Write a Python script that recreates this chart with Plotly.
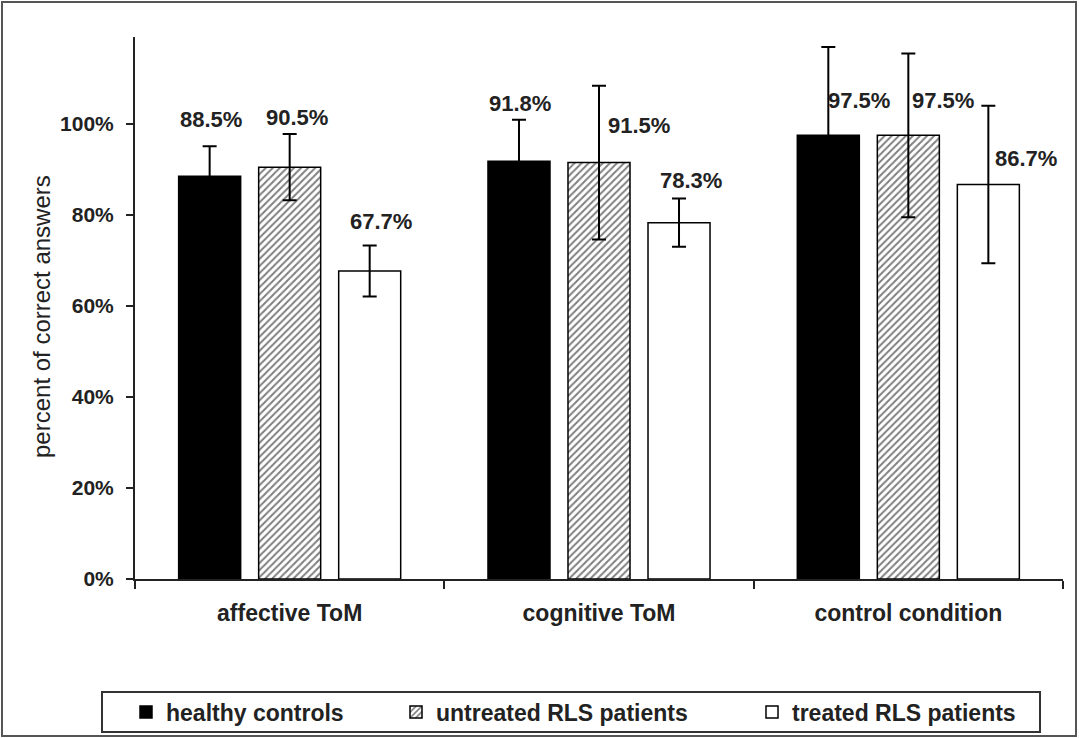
import plotly.graph_objects as go

categories = ["affective ToM", "cognitive ToM", "control condition"]
groups = ["healthy controls", "untreated RLS patients", "treated RLS patients"]
healthy = [88.5, 91.8, 97.5]
untreated = [90.5, 91.5, 97.5]
treated = [67.7, 78.3, 86.7]
healthy_sd = [6.6, 9.1, 19.4]
untreated_sd = [7.3, 16.9, 18.0]
treated_sd = [5.6, 5.3, 17.3]
y_ticks = [0, 20, 40, 60, 80, 100]

# label placement (style only)
label_y = [[100.9, 104.4, 105.1], [101.5, 99.6, 105.1], [78.5, 87.5, 92.5]]
label_dx = [[1, 1, 31], [7, 40, 35], [11, 12, 38]]

W, H = 1079, 738
L, T = 135, 37
R = W - 1063
B = H - 579
PW, PH = W - L - R, H - T - B


def px(x):
    return (x - L) / PW


def py(y):
    return (H - B - y) / PH


FONT = "Liberation Sans, Arial, sans-serif"

series = [healthy, untreated, treated]
sds = [healthy_sd, untreated_sd, treated_sd]
styles = [
    dict(color="black", line=dict(color="black", width=1.5)),
    dict(color="white", line=dict(color="black", width=1.5),
         pattern=dict(shape="/", fgcolor="black", bgcolor="white", size=5, solidity=0.4)),
    dict(color="white", line=dict(color="black", width=1.5)),
]
legends = ["legend", "legend2", "legend3"]

fig = go.Figure()
for i in range(3):
    fig.add_trace(go.Bar(
        x=categories, y=series[i], name=groups[i],
        marker=styles[i],
        error_y=dict(type="data", array=sds[i], visible=True, color="black", thickness=2, width=7),
        legend=legends[i],
    ))

bar_offset = [-80, 0, 80]
annotations = []
for i in range(3):
    for j in range(3):
        annotations.append(dict(
            x=categories[j], y=label_y[i][j], xref="x", yref="y",
            text=f"{series[i][j]}%", showarrow=False,
            xshift=bar_offset[i] + label_dx[i][j],
            font=dict(family=FONT, size=22, color="#222", weight="bold"),
            xanchor="center", yanchor="middle",
        ))

annotations.append(dict(
    x=px(41), y=py(317), xref="paper", yref="paper",
    text="percent of correct answers", textangle=-90, showarrow=False,
    font=dict(family=FONT, size=24, color="#222"),
    xanchor="center", yanchor="middle",
))

text_starts = [166, 436, 792]
legend_cfg = {}
for k, name in enumerate(legends):
    legend_cfg[name] = dict(
        x=px(text_starts[k] - 40), y=py(712), xanchor="left", yanchor="middle",
        orientation="h", bgcolor="rgba(0,0,0,0)", borderwidth=0,
        font=dict(family=FONT, size=23, color="#222", weight="bold"),
    )

shapes = [
    dict(type="rect", xref="paper", yref="paper",
         x0=px(102), x1=px(1040), y0=py(732), y1=py(692),
         line=dict(color="#333", width=2)),
    dict(type="rect", xref="paper", yref="paper",
         x0=px(2), x1=px(1076), y0=py(736), y1=py(2),
         line=dict(color="#555", width=2)),
]

fig.update_layout(
    width=W, height=H,
    margin=dict(l=L, r=R, t=T, b=B, autoexpand=False),
    paper_bgcolor="white", plot_bgcolor="white",
    barmode="group", bargap=0.224, bargroupgap=0.225,
    showlegend=True,
    annotations=annotations, shapes=shapes,
    font=dict(family=FONT, color="#222"),
    **legend_cfg,
)
fig.update_xaxes(
    showline=True, linecolor="#222", linewidth=2,
    ticks="outside", tickson="boundaries", ticklen=8, tickwidth=2, tickcolor="#222",
    tickfont=dict(family=FONT, size=23, color="#222", weight="bold"),
    ticklabelstandoff=12, showgrid=False,
)
fig.update_yaxes(
    range=[0, 119.1], tickvals=y_ticks, ticktext=[f"{v}%" for v in y_ticks],
    showline=True, linecolor="#222", linewidth=2,
    ticks="outside", ticklen=7, tickwidth=2, tickcolor="#222",
    tickfont=dict(family=FONT, size=21, color="#222", weight="bold"),
    ticklabelstandoff=8, showgrid=False, zeroline=False,
)

fig.write_html(
    "out.html",
    config={"displayModeBar": False},
    post_script="document.body.style.margin='0';document.body.style.overflow='hidden';",
)
